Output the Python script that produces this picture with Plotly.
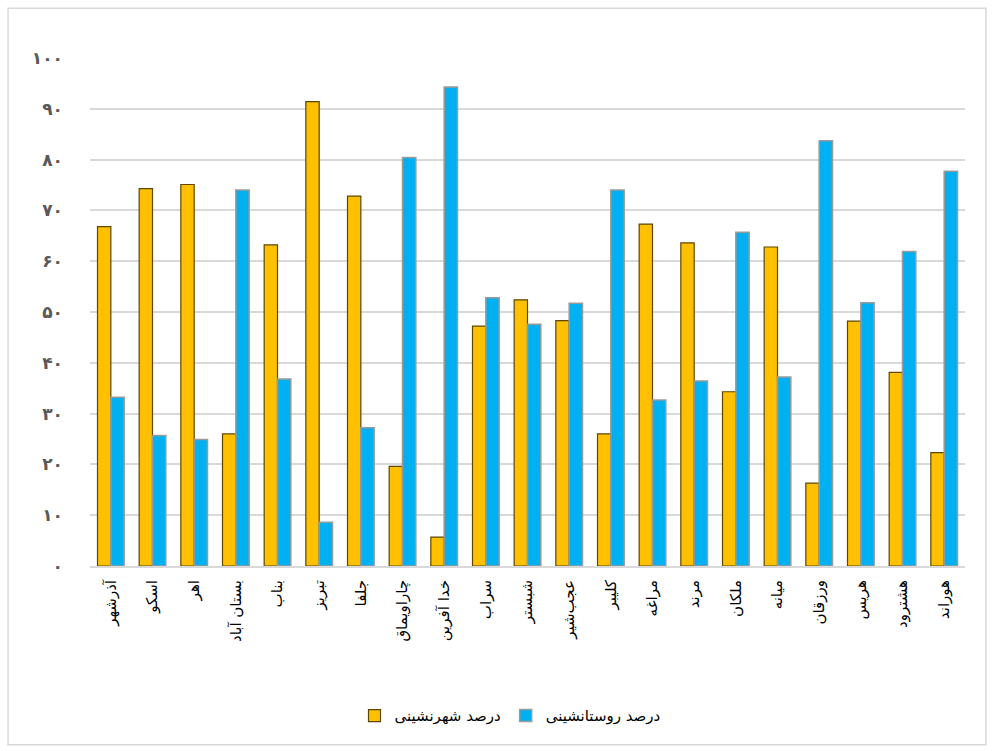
import plotly.graph_objects as go

# Counties of East Azerbaijan
counties = ["آذرشهر", "اسکو", "اهر", "بستان آباد", "بناب", "تبریز", "جلفا",
            "چاراویماق", "خدا آفرین", "سراب", "شبستر", "عجب‌شیر", "کلیبر",
            "مراغه", "مرند", "ملکان", "میانه", "ورزقان", "هریس", "هشترود", "هوراند"]

# Urban share of population (%)
urban = [66.8, 74.3, 75.1, 26.0, 63.2, 91.4, 72.8, 19.6, 5.7, 47.2, 52.4,
         48.3, 26.0, 67.3, 63.6, 34.3, 62.8, 16.3, 48.2, 38.1, 22.3]
# Rural share of population (%)
rural = [33.2, 25.7, 24.9, 74.0, 36.8, 8.6, 27.2, 80.4, 94.3, 52.8, 47.6,
         51.7, 74.0, 32.7, 36.4, 65.7, 37.2, 83.7, 51.8, 61.9, 77.7]

# Y tick values with Persian digit labels
tick_vals = [0, 10, 20, 30, 40, 50, 60, 70, 80, 90, 100]
tick_text = ["۰", "۱۰", "۲۰", "۳۰", "۴۰", "۵۰", "۶۰", "۷۰", "۸۰", "۹۰", "۱۰۰"]

fig = go.Figure()
fig.add_trace(go.Bar(
    x=counties, y=urban, name="درصد شهرنشینی",
    marker=dict(color="#FFC000", line=dict(color="#5C4600", width=1.2)),
))
fig.add_trace(go.Bar(
    x=counties, y=rural, name="درصد روستانشینی",
    marker=dict(color="#00B0F0", line=dict(color="#9A9A9A", width=1.5)),
))

fig.update_layout(
    width=995, height=751,
    margin=dict(l=90, r=30, t=58, b=185),
    paper_bgcolor="white", plot_bgcolor="white",
    barmode="group", bargap=0.36, bargroupgap=0.0,
    font=dict(family="DejaVu Sans", color="#000000"),
    showlegend=True,
    legend=dict(orientation="h", x=0.48, xanchor="center", y=-0.295, yanchor="middle",
                font=dict(size=15, color="#000000"), itemwidth=30,
                traceorder="normal"),
    xaxis=dict(
        tickangle=-90, tickfont=dict(size=15, color="#000000"),
        showgrid=False, showline=True, linecolor="#D9D9D9", linewidth=2,
        ticks="", ticklabelstandoff=6,
    ),
    yaxis=dict(
        range=[0, 100], tickvals=tick_vals, ticktext=tick_text,
        tickfont=dict(size=17, color="#595959", family="DejaVu Sans", weight="bold"),
        showgrid=True, gridcolor="#D9D9D9", gridwidth=2,
        zeroline=False, showline=False, ticks="", ticklabelstandoff=26,
    ),
    shapes=[dict(type="rect", xref="paper", yref="paper",
                 x0=-0.0937, x1=1.024, y0=-0.352, y1=1.098,
                 line=dict(color="#D9D9D9", width=1.5), fillcolor="rgba(0,0,0,0)",
                 layer="below")],
)

fig.write_html("out.html")
